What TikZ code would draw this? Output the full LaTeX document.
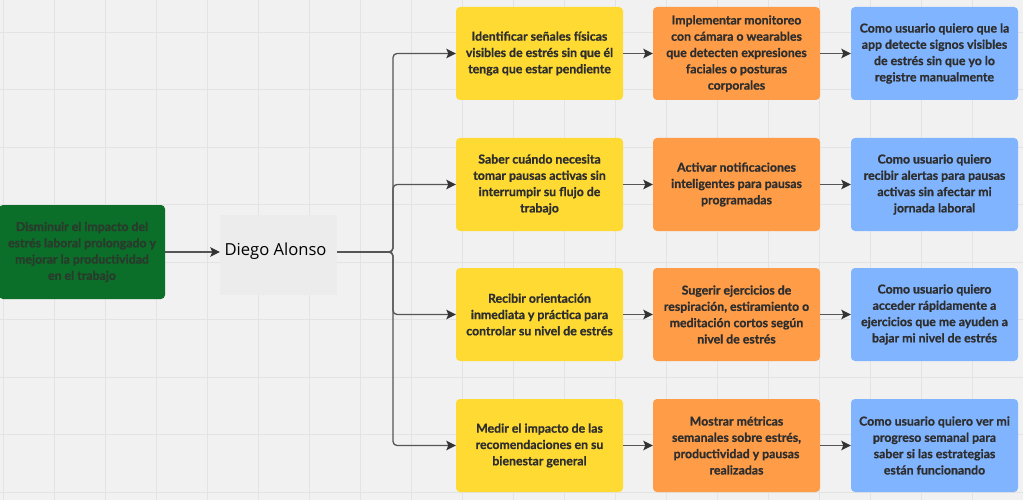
\documentclass[tikz,border=0pt]{standalone}
\usepackage{fontspec}
\setmainfont{Lato}[BoldFeatures={FakeBold=0.9}]
\newfontfamily\namefont{Open Sans}
\usetikzlibrary{arrows.meta}

\definecolor{canvas}{HTML}{F1F1F1}
\definecolor{gridline}{HTML}{E3E3E3}
\definecolor{goalgreen}{HTML}{0B6E29}
\definecolor{goaltext}{HTML}{2A3A2C}
\definecolor{personbg}{HTML}{ECECEC}
\definecolor{needyellow}{HTML}{FFDA33}
\definecolor{featorange}{HTML}{FF9C48}
\definecolor{storyblue}{HTML}{80B4FF}
\definecolor{inktext}{HTML}{2E2E2E}
\definecolor{linkgray}{HTML}{555555}
\definecolor{headgray}{HTML}{333333}

\tikzset{
  card/.style={rounded corners=4pt, minimum width=167pt, minimum height=93pt,
    inner sep=0pt, align=center, text=inktext,
    font=\bfseries\fontsize{12.3}{16.3}\selectfont},
  needcard/.style={card, fill=needyellow},
  featcard/.style={card, fill=featorange},
  storycard/.style={card, fill=storyblue},
  link/.style={draw=linkgray, line width=1.3pt,
    -{Stealth[length=9.5pt, width=9.5pt, inset=2pt, color=headgray]}},
  fork/.style={link, rounded corners=4pt}
}

\begin{document}
\begin{tikzpicture}[x=1pt, y=-1pt]
  % canvas and background grid
  \fill[canvas] (0,0) rectangle (1023,500);
  \useasboundingbox (0,0) rectangle (1023,500);
  \foreach \gx in {0,...,20} {
    \draw[gridline, line width=0.8pt] ({3.5+51*\gx},0) -- ({3.5+51*\gx},500);
  }
  \foreach \gy in {0,...,8} {
    \draw[gridline, line width=0.8pt] (0,{32+57.5*\gy}) -- (1023,{32+57.5*\gy});
  }

  % goal and persona
  \node[card, fill=goalgreen, text=goaltext, minimum width=166pt, minimum height=94pt]
    (goal) at (82,252) {Disminuir el impacto del\\estrés laboral prolongado y\\mejorar la productividad\\en el trabajo};
  \node[fill=personbg, minimum width=117pt, minimum height=80pt, inner sep=0pt]
    (person) at (278.5,255) {};
  \node[font=\namefont\fontsize{16.6}{19}\selectfont, inner sep=0pt] (personname) at (275.5,251) {Diego Alonso};

  % needs
  \node[needcard] (n1) at (539.5,53.5) {Identificar señales físicas\\visibles de estrés sin que él\\tenga que estar pendiente};
  \node[needcard] (n2) at (539.5,184.5) {Saber cuándo necesita\\tomar pausas activas sin\\interrumpir su flujo de\\trabajo};
  \node[needcard] (n3) at (539.5,314.5) {Recibir orientación\\inmediata y práctica para\\controlar su nivel de estrés};
  \node[needcard] (n4) at (539.5,445.5) {Medir el impacto de las\\recomendaciones en su\\bienestar general};

  % features
  \node[featcard] (f1) at (736.5,53.5) {Implementar monitoreo\\con cámara o wearables\\que detecten expresiones\\faciales o posturas\\corporales};
  \node[featcard] (f2) at (736.5,184.5) {Activar notificaciones\\inteligentes para pausas\\programadas};
  \node[featcard] (f3) at (736.5,314.5) {Sugerir ejercicios de\\respiración, estiramiento o\\meditación cortos según\\nivel de estrés};
  \node[featcard] (f4) at (736.5,445.5) {Mostrar métricas\\semanales sobre estrés,\\productividad y pausas\\realizadas};

  % user stories
  \node[storycard] (s1) at (934.5,53.5) {Como usuario quiero que la\\app detecte signos visibles\\de estrés sin que yo lo\\registre manualmente};
  \node[storycard] (s2) at (934.5,184.5) {Como usuario quiero\\recibir alertas para pausas\\activas sin afectar mi\\jornada laboral};
  \node[storycard] (s3) at (934.5,314.5) {Como usuario quiero\\acceder rápidamente a\\ejercicios que me ayuden a\\bajar mi nivel de estrés};
  \node[storycard] (s4) at (934.5,445.5) {Como usuario quiero ver mi\\progreso semanal para\\saber si las estrategias\\están funcionando};

  % connectors
  \coordinate (split) at (393,252);
  \draw[link] (goal.east |- 0,252) -- (person.west |- 0,252);
  \foreach \k in {1,2,3,4} {
    \draw[fork] (person.east |- 0,252) -- (split) |- (n\k.west);
    \draw[link] (n\k.east) -- (f\k.west);
    \draw[link] (f\k.east) -- (s\k.west);
  }
\end{tikzpicture}
\end{document}
